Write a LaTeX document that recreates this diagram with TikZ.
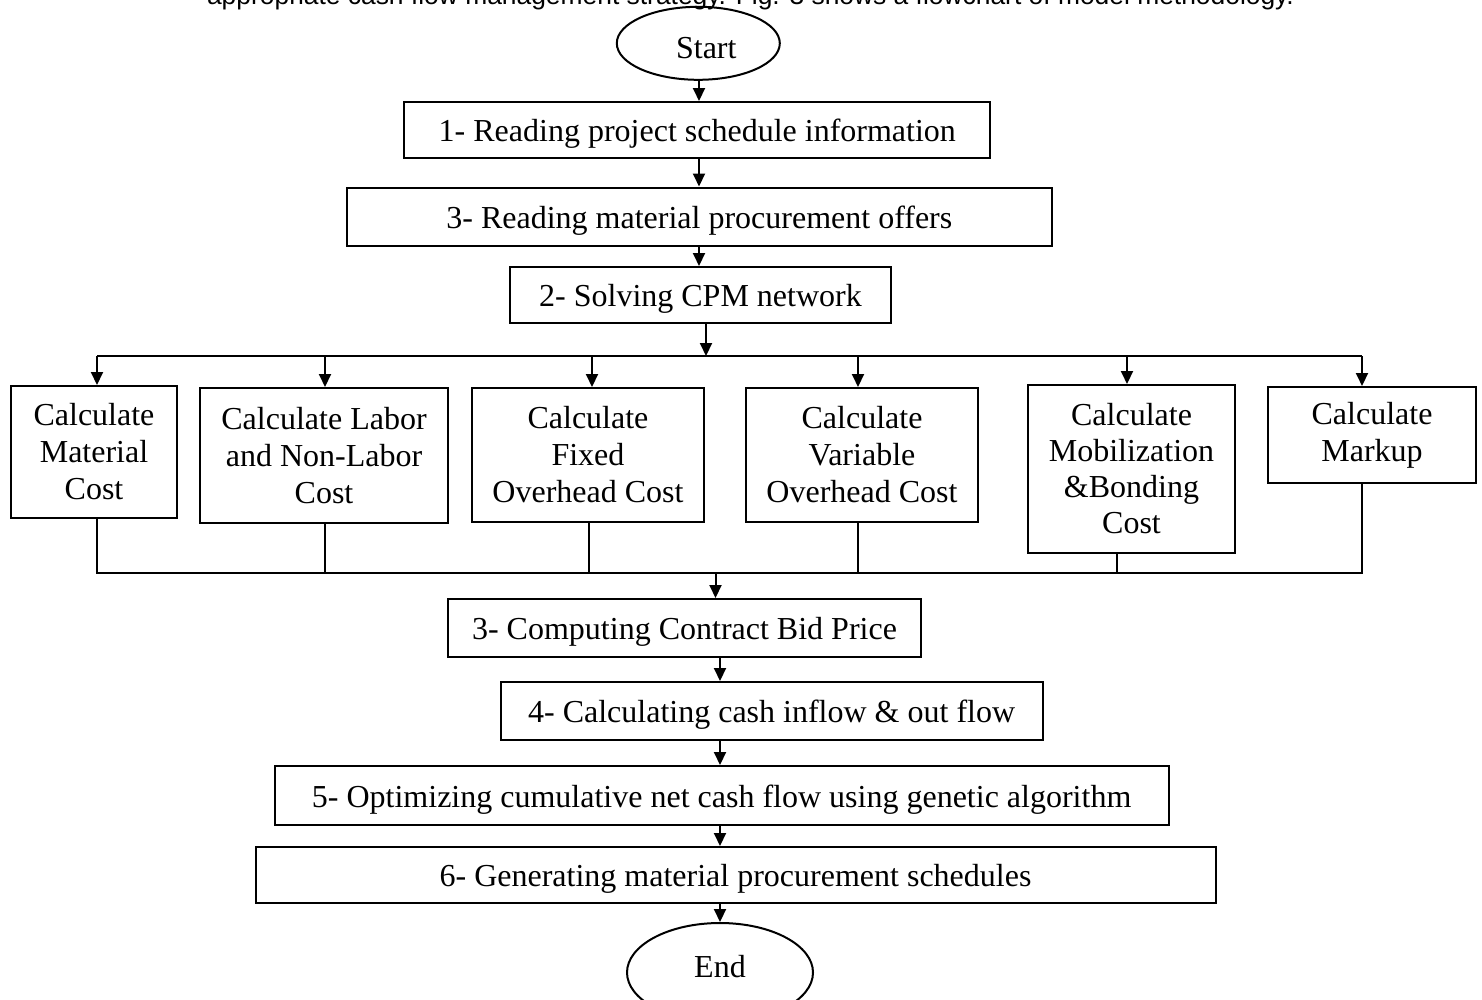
\documentclass[tikz,border=0pt]{standalone}
\usepackage{fontspec}
\setmainfont{Liberation Serif}
\newfontfamily\introfont{Liberation Sans}
\usetikzlibrary{arrows.meta,shapes.geometric,positioning}

\begin{document}
\begin{tikzpicture}[
            x=1pt, y=-1pt,
            line width=2pt,
            font=\fontsize{32}{37}\selectfont,
            procbox/.style={draw,rectangle,inner sep=0pt,align=center},
            linebox/.style={procbox,text height=30pt,text depth=7pt},
            termoval/.style={draw,ellipse,inner sep=0pt},
            flowarrow/.style={-{Triangle[length=13pt,width=12pt]}}
        ]
            \useasboundingbox (0,0) rectangle (1482,999);

            % text line above the chart, cut by the page
            \node (intro) [anchor=base,font=\introfont\fontsize{26.4}{30}\selectfont] at (750.5,4)
                {appropriate cash flow management strategy. Fig. 3 shows a flowchart of model methodology.};

            % main steps
            \node (start) [termoval,minimum width=163pt,minimum height=73pt,text height=30pt,text depth=0pt] at (698.3,43.3) {\hspace*{16pt}Start};
            \node (s1) [linebox,minimum width=586pt,minimum height=56pt] at (697.3,130)   {1- Reading project schedule information};
            \node (s2) [linebox,minimum width=705pt,minimum height=58pt] at (699.3,216.5) {3- Reading material procurement offers};
            \node (s3) [linebox,minimum width=381pt,minimum height=56pt] at (700.5,295)   {2- Solving CPM network};

            % cost calculations
            \node (mat)  [procbox,minimum width=166pt,minimum height=132pt] at (94,452)     {Calculate\\Material\\Cost};
            \node (lab)  [procbox,minimum width=248pt,minimum height=135pt] at (324,455.5)  {Calculate Labor\\and Non-Labor\\Cost};
            \node (fix)  [procbox,minimum width=232pt,minimum height=134pt] at (588,455)    {Calculate\\Fixed\\Overhead Cost};
            \node (var)  [procbox,minimum width=232pt,minimum height=134pt] at (862,455)    {Calculate\\Variable\\Overhead Cost};
            \node (mob)  [procbox,minimum width=207pt,minimum height=168pt,font=\fontsize{32}{36}\selectfont] at (1131.5,469) {Calculate\\Mobilization\\\&Bonding\\Cost};
            \node (mark) [procbox,minimum width=208pt,minimum height=96pt]  at (1372,435)   {Calculate\\Markup};

            \node (bid)  [linebox,minimum width=473pt,minimum height=58pt] at (684.5,628)   {3- Computing Contract Bid Price};
            \node (cash) [linebox,minimum width=542pt,minimum height=58pt] at (771.6,711)   {4- Calculating cash inflow \& out flow};
            \node (opt)  [linebox,minimum width=894pt,minimum height=59pt] at (721.6,795.5) {5- Optimizing cumulative net cash flow using genetic algorithm};
            \node (gen)  [linebox,minimum width=960pt,minimum height=56pt] at (735.5,875)   {6- Generating material procurement schedules};
            \node (end)  [termoval,minimum width=186pt,minimum height=99pt,text height=21pt,text depth=12pt] at (720,972.5) {End};

            % spine and bus lines
            \coordinate (ax1)  at (699,0);
            \coordinate (ax2)  at (706,0);
            \coordinate (ax3)  at (715.5,0);
            \coordinate (ax4)  at (720,0);
            \coordinate (busA) at (97,356);
            \coordinate (busB) at (1362,356);
            \coordinate (busC) at (97,572.5);
            \coordinate (busD) at (1362,572.5);

            \draw [flowarrow] (start.south -| ax1) -- (s1.north -| ax1);
            \draw [flowarrow] (s1.south -| ax1)    -- (s2.north -| ax1);
            \draw [flowarrow] (s2.south -| ax1)    -- (s3.north -| ax1);
            \draw [flowarrow] (s3.south -| ax2)    -- (busA -| ax2);

            \draw             (busA) -- (busB);
            \draw [flowarrow] (busA)                           -- (busA |- mat.north);
            \draw [flowarrow] ([xshift=1pt]lab.north |- busA)  -- ([xshift=1pt]lab.north);
            \draw [flowarrow] ([xshift=4pt]fix.north |- busA)  -- ([xshift=4pt]fix.north);
            \draw [flowarrow] ([xshift=-4pt]var.north |- busA) -- ([xshift=-4pt]var.north);
            \draw [flowarrow] ([xshift=-4.5pt]mob.north |- busA) -- ([xshift=-4.5pt]mob.north);
            \draw [flowarrow] (busB)                           -- (busB |- mark.north);

            \draw (mat.south -| busC) -- (busC) -- (busD) -- (busD |- mark.south);
            \draw ([xshift=1pt]lab.south)     -- ([xshift=1pt]lab.south |- busC);
            \draw ([xshift=1pt]fix.south)     -- ([xshift=1pt]fix.south |- busC);
            \draw ([xshift=-4pt]var.south)    -- ([xshift=-4pt]var.south |- busC);
            \draw ([xshift=-14.5pt]mob.south) -- ([xshift=-14.5pt]mob.south |- busC);

            \draw [flowarrow] (busC -| ax3)      -- (bid.north -| ax3);
            \draw [flowarrow] (bid.south -| ax4)  -- (cash.north -| ax4);
            \draw [flowarrow] (cash.south -| ax4) -- (opt.north -| ax4);
            \draw [flowarrow] (opt.south -| ax4)  -- (gen.north -| ax4);
            \draw [flowarrow] (gen.south -| ax4)  -- (end.north -| ax4);
        \end{tikzpicture}
\end{document}
